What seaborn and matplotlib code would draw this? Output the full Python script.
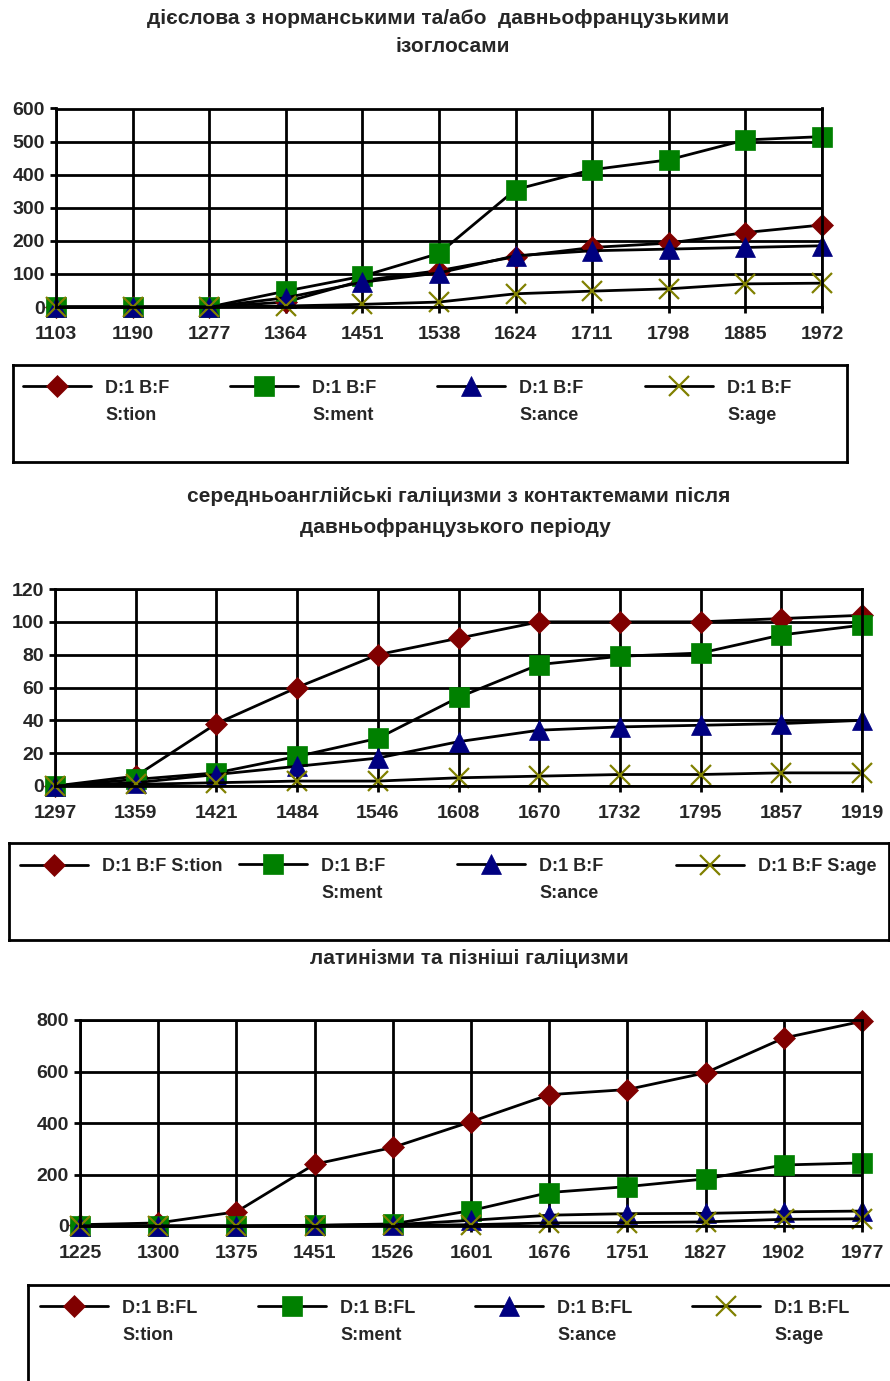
import matplotlib
matplotlib.use("Agg")
import matplotlib.pyplot as plt
import numpy as np
import pandas as pd
import seaborn as sns

sns.set_style("white")
plt.rcParams["font.family"] = ["Liberation Sans", "DejaVu Sans"]
plt.rcParams["font.weight"] = "bold"
plt.rcParams["font.size"] = 13

W, H = 890, 1381

# ---------------- data ----------------
years_1 = ["1103", "1190", "1277", "1364", "1451", "1538", "1624", "1711", "1798", "1885", "1972"]
tion_1 = [0, 0, 0, 15, 80, 110, 152, 180, 193, 225, 248]
ment_1 = [0, 0, 0, 48, 93, 162, 355, 415, 445, 505, 515]
ance_1 = [0, 0, 0, 28, 75, 103, 155, 170, 175, 180, 185]
age_1 = [0, 0, 0, 3, 8, 15, 40, 48, 55, 70, 72]

years_2 = ["1297", "1359", "1421", "1484", "1546", "1608", "1670", "1732", "1795", "1857", "1919"]
tion_2 = [0, 6, 38, 60, 80, 90, 100, 100, 100, 102, 104]
ment_2 = [0, 4, 8, 18, 29, 54, 74, 79, 81, 92, 98]
ance_2 = [0, 2, 7, 12, 17, 27, 34, 36, 37, 38, 40]
age_2 = [0, 1, 2, 3, 3, 5, 6, 7, 7, 8, 8]

years_3 = ["1225", "1300", "1375", "1451", "1526", "1601", "1676", "1751", "1827", "1902", "1977"]
tion_3 = [5, 12, 55, 240, 305, 405, 510, 530, 595, 730, 795]
ment_3 = [0, 0, 0, 3, 8, 60, 130, 153, 183, 237, 245]
ance_3 = [0, 0, 0, 2, 5, 22, 42, 48, 49, 55, 58]
age_3 = [0, 0, 0, 0, 2, 5, 12, 13, 16, 26, 28]

labels_1 = ["D:1 B:F\nS:tion", "D:1 B:F\nS:ment", "D:1 B:F\nS:ance", "D:1 B:F\nS:age"]
labels_2 = ["D:1 B:F S:tion", "D:1 B:F\nS:ment", "D:1 B:F\nS:ance", "D:1 B:F S:age"]
labels_3 = ["D:1 B:FL\nS:tion", "D:1 B:FL\nS:ment", "D:1 B:FL\nS:ance", "D:1 B:FL\nS:age"]

title_1 = ["дієслова з норманськими та/або  давньофранцузькими", "ізоглосами"]
title_2 = ["середньоанглійські галіцизми з контактемами після", "давньофранцузького періоду"]
title_3 = ["латинізми та пізніші галіцизми"]

# ---------------- styles ----------------
KEYS = ["tion", "ment", "ance", "age"]
COLOR = {"tion": "#800000", "ment": "#008000", "ance": "#000080", "age": "#808000"}
MARKER = {"tion": "D", "ment": "s", "ance": "^", "age": "x"}
MSIZE = {"tion": 11, "ment": 15, "ance": 15, "age": 15}
MEW = {"tion": 0.5, "ment": 0.5, "ance": 0.5, "age": 1.6}

fig = plt.figure(figsize=(W / 100, H / 100), dpi=100)
fig.patch.set_facecolor("white")


def px_axes(left, top, right, bottom):
    return fig.add_axes([left / W, 1 - bottom / H, (right - left) / W, (bottom - top) / H])


def draw_panel(box, years, series, ymax, ystep):
    ax = px_axes(*box)
    idx = np.arange(len(years))
    for key, vals in zip(KEYS, series):
        df = pd.DataFrame({"pos": idx, "value": vals})
        sns.lineplot(data=df, x="pos", y="value", ax=ax, color="black", linewidth=2,
                     marker=MARKER[key], markersize=MSIZE[key],
                     markerfacecolor=COLOR[key], markeredgecolor=COLOR[key],
                     markeredgewidth=MEW[key], clip_on=False, legend=False)
    ax.set_xlim(0, len(years) - 1)
    ax.set_ylim(0, ymax)
    ax.set_xticks(idx, years)
    ax.set_yticks(np.arange(0, ymax + 1, ystep))
    ax.set_xlabel("")
    ax.set_ylabel("")
    ax.grid(True, color="black", linewidth=2)
    ax.set_axisbelow(True)
    for s in ax.spines.values():
        s.set_color("black")
        s.set_linewidth(2)
    ax.tick_params(axis="both", direction="out", length=4.5, width=2, color="black",
                   labelsize=14, bottom=True, left=True)
    ax.tick_params(axis="x", pad=9.5)
    ax.tick_params(axis="y", pad=3.5)
    return ax


def draw_legend(ax, box, starts, top, labels):
    lax = px_axes(*box)
    lax.set_xticks([])
    lax.set_yticks([])
    lax.patch.set_alpha(0)
    for s in lax.spines.values():
        s.set_color("black")
        s.set_linewidth(2)
    lines = ax.get_lines()[:4]
    for h, lab, x in zip(lines, labels, starts):
        leg = fig.legend(handles=[h], labels=[lab], loc="upper left",
                         bbox_to_anchor=(x / W, 1 - top / H), bbox_transform=fig.transFigure,
                         frameon=False, borderpad=0, borderaxespad=0, numpoints=1,
                         handlelength=68 / 18.06, handletextpad=14 / 18.06,
                         prop={"weight": "bold", "size": 13})
        for t in leg.get_texts():
            t.set_linespacing(1.78)
        # keep the sample line level with the first line of a two-line label
        if "\n" in lab:
            for lh in leg.legend_handles:
                lh.set_ydata(np.asarray(lh.get_ydata()) + 11.4)


def draw_title(lines, centers, ys):
    for s, cx, cy in zip(lines, centers, ys):
        fig.text(cx / W, 1 - cy / H, s, ha="center", va="center", fontsize=15, fontweight="bold")


# panel 1
draw_title(title_1, [438, 453], [18, 47])
ax1 = draw_panel((56, 108.5, 822, 307), years_1, [tion_1, ment_1, ance_1, age_1], 600, 100)
draw_legend(ax1, (12.5, 365, 847, 462), [23, 230, 437, 645], 380, labels_1)

# panel 2
draw_title(title_2, [459, 455], [497, 528])
ax2 = draw_panel((55, 589, 862, 786), years_2, [tion_2, ment_2, ance_2, age_2], 120, 20)
draw_legend(ax2, (9, 843, 889, 940), [20, 239, 457, 676], 858, labels_2)

# panel 3
draw_title(title_3, [469], [958])
ax3 = draw_panel((80, 1020, 862, 1226), years_3, [tion_3, ment_3, ance_3, age_3], 800, 200)
draw_legend(ax3, (28.5, 1285, 900, 1400), [40, 258, 475, 692], 1300, labels_3)

fig.savefig("out.png", dpi=100, facecolor="white")
